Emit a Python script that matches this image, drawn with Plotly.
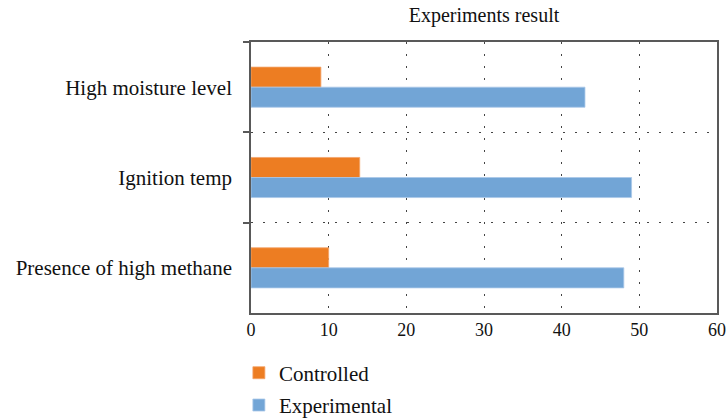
import plotly.graph_objects as go

categories = ["High moisture level", "Ignition temp", "Presence of high methane"]
controlled = [9, 14, 10]
experimental = [43, 49, 48]
x_ticks = [0, 10, 20, 30, 40, 50, 60]

SERIF = "Liberation Serif, Times New Roman, serif"
FRAME = "#595959"

fig = go.Figure()
fig.add_trace(go.Bar(
    y=categories, x=controlled, orientation="h", name="Controlled",
    marker=dict(color="#ED7D22", line=dict(color="#F4A56B", width=0.8)),
    legendgroup="a",
))
fig.add_trace(go.Bar(
    y=categories, x=experimental, orientation="h", name="Experimental",
    marker=dict(color="#72A5D6", line=dict(color="#A9C8E8", width=0.8)),
    legendgroup="b",
))

fig.update_layout(
    width=726, height=419,
    margin=dict(l=251, r=9, t=42, b=106, autoexpand=False),
    paper_bgcolor="white", plot_bgcolor="white",
    barmode="group", bargap=0.556, bargroupgap=0,
    title=dict(text="Experiments result", x=0.5, xref="paper", xanchor="center",
               y=0.965, yref="container", yanchor="middle",
               font=dict(family=SERIF, size=20, color="#111")),
    font=dict(family=SERIF, color="#111"),
    legend=dict(orientation="v", x=-0.026, xanchor="left", y=-0.146, yanchor="top",
                font=dict(family=SERIF, size=21, color="#111"),
                tracegroupgap=2, itemclick=False),
    showlegend=True,
)

fig.update_xaxes(
    range=[0, 60], tickvals=x_ticks, ticktext=[str(v) for v in x_ticks],
    showgrid=True, gridcolor="#444", gridwidth=1, griddash="2px,10px",
    showline=True, linecolor=FRAME, linewidth=1.6, mirror=True,
    ticks="", tickfont=dict(family=SERIF, size=18, color="#111"),
    zeroline=False, fixedrange=True,
)
fig.update_yaxes(
    type="category", categoryorder="array", categoryarray=categories,
    autorange="reversed", tickson="boundaries",
    showgrid=True, gridcolor="#444", gridwidth=1, griddash="2px,10px",
    showline=True, linecolor=FRAME, linewidth=1.6, mirror=True,
    ticks="outside", ticklen=6, tickcolor=FRAME, tickwidth=1.6,
    tickfont=dict(family=SERIF, size=21, color="#111"),
    ticklabelstandoff=13,
    zeroline=False, fixedrange=True,
)

fig.write_html("out.html")
